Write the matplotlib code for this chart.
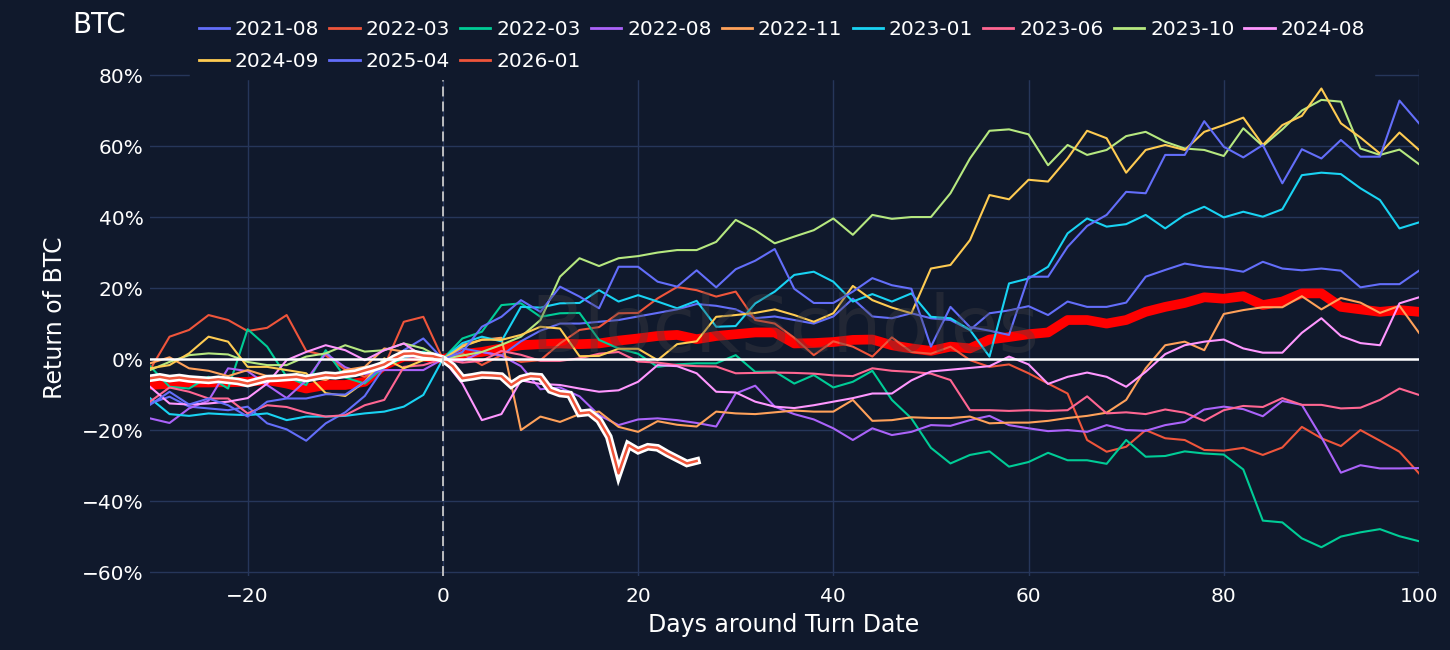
"""
BTC: returns around turn dates, one line per episode plus the average
"""
import numpy as np
import matplotlib
matplotlib.use('Agg')
import matplotlib.pyplot as plt
from matplotlib.ticker import PercentFormatter

# days around the turn date (read every 2nd day), values are returns in %
days = np.arange(-30, 101, 2)

ret_2021_08 = [-12.5, -10.6, -13.4, -13.9, -14.4, -13.4, -18.1, -19.8, -23.0, -18.1, -15.0, -10.4, -2.2, 2.5, 5.8, 0,
               3, 2, 1, 5, 8, 10, 10, 10.5, 11, 12, 13, 14, 15.5, 15, 14, 11.5, 12, 11, 10, 12,
               17, 12, 11.5, 12.9, 11.5, 11, 8.2, 12.9, 13.7, 14.9, 12.4, 16.2, 14.7, 14.7, 15.9,
               23.2, 25.1, 26.9, 26, 25.5, 24.6, 27.4, 25.5, 25, 25.5, 24.9, 20.2, 21.1, 21.1, 24.9]
ret_2022_03a = [-3, 6.3, 8.2, 12.4, 11, 7.9, 8.8, 12.4, 2.3, 1, -3, -5, -2, 10.5, 11.9, 0,
                1.6, -1.7, 1.1, -0.8, -0.3, 4.4, 8.2, 9, 12.9, 13, 17.1, 20.3, 19.4, 17.6, 19, 11, 10, 6, 1.1, 5,
                3.5, 0.7, 6.1, 2, 1.5, 3.5, -0.3, -2.2, -1.5, -4, -6.9, -9.7, -22.8, -26.1, -24.7,
                -20, -22.3, -22.8, -25.6, -25.8, -25, -27, -24.9, -19.1, -22.3, -24.5, -20, -23, -26.1, -32.2]
ret_2022_03b = [-2, -7.8, -8.3, -5, -8.3, 8.4, 3.5, -5, -7.3, 2.5, -5.2, -6.9, -2.2, 0.2, 2.1, 0,
                5.8, 7.7, 15.2, 15.7, 11.9, 12.9, 13, 5.4, 3, 1.5, -2.2, -1.5, -1.2, -1.2, 1.1, -3.6, -3.5, -6.9, -4.5, -8,
                -6.4, -3.3, -11.5, -16.7, -25, -29.4, -27, -26, -30.3, -29, -26.4, -28.5, -28.5, -29.5, -22.8,
                -27.5, -27.3, -26, -26.6, -26.9, -31.1, -45.5, -46, -50.5, -53, -50, -48.8, -47.9, -49.9, -51.3]
ret_2022_08 = [-16.7, -18, -13.9, -11.7, -2.6, -3.4, -7.3, -11, -6, 1.6, -2.3, -4.2, -3.1, -3.1, -3.1, 0,
               -0.5, 2, 1, -2, -8.5, -8, -10.5, -15.8, -18.6, -17, -16.7, -17.2, -18, -19, -9.7, -7.5, -13.4, -15.5, -17, -19.5,
               -22.8, -19.5, -21.4, -20.5, -18.6, -18.8, -17.2, -16, -18.6, -19.5, -20.3, -20, -20.5, -18.6, -20,
               -20.2, -18.6, -17.7, -14.2, -13.4, -14.1, -16.1, -11.8, -12.9, -22, -32, -29.9, -30.8, -30.8, -30.7]
ret_2022_11 = [-1.2, 0.5, -2.6, -3.3, -4.8, -3.1, -4.8, -5.9, -5, -5.9, -3.1, -2.2, 3, 2.1, 0.8, 0,
               4, 5.4, 6, -20, -16.2, -17.7, -15.5, -14.8, -19.1, -20.5, -17.5, -18.5, -19, -14.8, -15.3, -15.5, -15, -14.5, -14.8, -14.8,
               -11.5, -17.4, -17.2, -16.4, -16.6, -16.6, -16.2, -18.1, -17.9, -17.9, -17.4, -16.6, -16, -15.1, -11.5,
               -2.6, 3.9, 4.9, 2.5, 12.7, 13.8, 14.6, 14.6, 17.7, 14, 17.2, 15.9, 13, 15, 7.4]
ret_2023_01 = [-11, -15.5, -16, -15.3, -15.6, -15.8, -15.3, -17.2, -16.2, -16.2, -16, -15.3, -14.8, -13.4, -10.1, 0,
               4.5, 6.3, 5, 14.7, 14.5, 15.7, 15.8, 19.4, 16.2, 18, 16.2, 14.3, 16.4, 9.1, 9.3, 15.7, 19, 23.7, 24.6, 21.8,
               16.2, 18.3, 16.2, 18.5, 11.9, 11.5, 8.2, 0.7, 21.3, 22.7, 26, 35.4, 39.6, 37.3, 38,
               40.6, 36.8, 40.6, 42.9, 39.9, 41.5, 40.1, 42.2, 51.8, 52.5, 52.1, 48.1, 44.8, 36.8, 38.5]
ret_2023_06 = [-12, -8, -9.2, -11.1, -11.1, -15.3, -13, -13.5, -15.1, -16.2, -15.8, -13, -11.5, -2.2, -1.7, 0,
               -1, -0.5, 2.3, 1.2, -0.5, -0.5, 0.2, 1.5, 2, -0.7, -1, -1.7, -2, -2.1, -4, -3.9, -3.8, -3.9, -4.1, -4.6,
               -4.8, -2.6, -3.3, -3.6, -4.1, -5.9, -14.4, -14.4, -14.6, -14.4, -14.6, -14.4, -10.5, -15.3, -15,
               -15.5, -14.2, -15.1, -17.4, -14.4, -13.2, -13.5, -11, -12.9, -12.9, -13.9, -13.7, -11.5, -8.3, -10.1]
ret_2023_10 = [-3.1, -0.8, 1.1, 1.6, 1.3, -0.8, -1.7, -1.7, 0.7, 1.6, 3.9, 2.1, 2.5, 4.4, 3, 0,
               1, 2, 4, 6.3, 11, 23.2, 28.4, 26.2, 28.4, 29, 30, 30.7, 30.7, 33, 39.2, 36.3, 32.6, 34.5, 36.3, 39.6,
               35, 40.6, 39.5, 40, 40, 46.7, 56.5, 64.3, 64.7, 63.3, 54.6, 60.3, 57.5, 58.9, 62.8,
               64, 61.2, 59.3, 58.9, 57.2, 65, 60, 64.7, 70, 73, 72.5, 59.3, 57.5, 59, 54.9]
ret_2024_08 = [-7.8, -12.5, -12.8, -12.5, -12, -11, -6.9, -0.3, 2, 3.9, 2.5, -0.3, 2.5, 4.4, 0.7, 0,
               -6.9, -17.2, -15.5, -6, -7, -7.3, -8.3, -9.2, -8.8, -6.4, -1.7, -2, -4, -9.2, -9.4, -12, -13.4, -13.8, -13, -12,
               -11, -9.7, -9.7, -6, -3.5, -3, -2.5, -2, 0.7, -1.5, -7, -5, -3.8, -5, -7.8,
               -3.6, 1.4, 3.9, 4.9, 5.5, 3, 1.8, 1.8, 7.4, 11.5, 6.5, 4.5, 3.9, 15.7, 17.4]
ret_2024_09 = [-2.6, -1.7, 1.6, 6.3, 4.9, -2.2, -2.2, -3.1, -4, -9.6, -10.4, -6.4, 0.2, -2.6, -0.3, 0,
               3.5, 5.5, 5.4, 6.8, 9.1, 8.6, 0.8, 0.9, 2.9, 2.9, -0.3, 4.2, 5, 11.9, 12.4, 13, 14, 12.4, 10.5, 12.9,
               20.6, 16.6, 14.5, 12.9, 25.5, 26.5, 33.5, 46.2, 45, 50.5, 50, 56.5, 64.3, 62.2, 52.5,
               58.9, 60.3, 58.9, 64, 65.9, 68, 60.3, 65.9, 68.5, 76.2, 66.4, 62.4, 57.9, 63.8, 58.9]
ret_2025_04 = [-12.9, -9.2, -12.8, -11.1, -13, -16.2, -12, -11.1, -11.1, -9.9, -10, -6.4, -1.7, 0.7, 0.8, 0,
               2, 9.1, 11.9, 16.6, 13.3, 20.4, 17.6, 14.3, 26, 26, 21.8, 20.4, 25, 20.2, 25.3, 27.7, 31, 19.8, 15.8, 15.8,
               19, 22.8, 20.8, 19.8, 3.5, 14.7, 9, 8, 6.8, 23.2, 23.2, 31.6, 37.5, 40.6, 47.1,
               46.7, 57.5, 57.5, 67, 59.8, 56.8, 60.3, 49.5, 59.1, 56.5, 61.7, 57, 57, 72.8, 66.4]
avg_ret = [-7.3, -7, -6.6, -6.6, -6.5, -6.4, -5.9, -6.9, -8.3, -7.3, -7.3, -6.4, -1.7, 0.7, 0.7, 0,
           1.4, 2, 3, 3.9, 4.2, 4.4, 4.2, 4.4, 5.2, 5.8, 6.5, 6.8, 5.6, 6.5, 7, 7.5, 7.5, 4.4, 4.5, 4.8,
           5.4, 5.5, 3.9, 3, 2.3, 3.5, 3, 5.5, 6.2, 7, 7.5, 11, 11, 10, 11,
           13.3, 14.7, 15.8, 17.4, 17, 17.7, 15.2, 16.2, 18.5, 18.5, 14.7, 14, 13.3, 13.8, 13.3]

# current episode, read day by day
days_2026 = np.arange(-30, 27)
ret_2026_01 = [-5.4, -5, -5.5, -5.2, -5.6, -5.8, -6, -5.7, -6, -6.3, -6.9, -6.2, -5.5, -5.4, -5.2, -5,
               -5.5, -5, -4.5, -4.7, -4.3, -4, -3.2, -2.4, -1.5, 0.2, 1.5, 1.6, 1, 0.8, 0,
               -2, -5.4, -5, -4.5, -4.6, -4.8, -7.3, -5.5, -4.8, -5, -8.7, -9.7, -10, -15.3, -15, -17.2,
               -21.9, -32.2, -24.2, -25.8, -24.7, -25, -26.6, -28, -29.4, -28.7]

labels = ['2021-08', '2022-03', '2022-03', '2022-08', '2022-11', '2023-01',
          '2023-06', '2023-10', '2024-08', '2024-09', '2025-04']
series = [ret_2021_08, ret_2022_03a, ret_2022_03b, ret_2022_08, ret_2022_11, ret_2023_01,
          ret_2023_06, ret_2023_10, ret_2024_08, ret_2024_09, ret_2025_04]
colors = ['#636EFA', '#EF553B', '#00CC96', '#AB63FA', '#FFA15A', '#19D3F3',
          '#FF6692', '#B6E880', '#FF97FF', '#FECB52', '#636EFA']

BG = '#10192c'
GRID = '#26365a'
W, H = 1450, 650

fig = plt.figure(figsize=(W / 100, H / 100), dpi=100, facecolor=BG)
ax = fig.add_axes([150 / W, 74 / H, 1269 / W, 507 / H], facecolor=BG)

# average of past episodes, thick red band under the lines
ax.plot(days, avg_ret, color='#ff0000', lw=7, solid_joinstyle='round', zorder=1.5)

handles = []
for vals, lab, col in zip(series, labels, colors):
    line, = ax.plot(days, vals, color=col, lw=1.5, label=lab, zorder=2)
    handles.append(line)

# current episode: white halo + red line
ax.plot(days_2026, ret_2026_01, color='white', lw=5.5, solid_joinstyle='miter', zorder=3)
cur, = ax.plot(days_2026, ret_2026_01, color='#EF553B', lw=1.8, zorder=3.1)
handles.append(cur)
labels_all = labels + ['2026-01']

ax.axhline(0, color='white', lw=1.8, zorder=4)
ax.axvline(0, color='#c8c8c8', lw=1.3, ls=(0, (5.5, 2.8)), zorder=4)

ax.set_xlim(-30, 100)
ax.set_ylim(-61.1, 81.7)
ax.set_xticks([-20, 0, 20, 40, 60, 80, 100])
ax.set_yticks(range(-60, 81, 20))
ax.yaxis.set_major_formatter(PercentFormatter(xmax=100, decimals=0))
ax.grid(True, color=GRID, lw=1)
ax.set_axisbelow(True)
ax.tick_params(length=0, colors='white', labelsize=14.5)
ax.tick_params(axis='x', pad=8)
ax.tick_params(axis='y', pad=4.5)
for s in ax.spines.values():
    s.set_visible(False)

fig.text(784 / W, 1 - 625 / H, 'Days around Turn Date', fontsize=17, color='white',
         ha='center', va='center')
fig.text(55 / W, 1 - 318 / H, 'Return of BTC', fontsize=17, color='white',
         ha='center', va='center', rotation=90)
fig.text(72 / W, 1 - 33 / H, 'BTC', fontsize=20, color='white', va='baseline')

# watermark
fig.text(785 / W, 1 - 352 / H, 'BlockScholes', fontsize=56, color='#444446', alpha=0.35,
         ha='center', va='baseline')

# legend filled column-wise, so reorder to get 9 per row
order = [0, 9, 1, 10, 2, 11, 3, 4, 5, 6, 7, 8]
leg = fig.legend([handles[i] for i in order], [labels_all[i] for i in order],
                 loc='upper left', bbox_to_anchor=(190 / W, 1 - 11 / H), ncol=9,
                 frameon=True, facecolor=BG, edgecolor=BG, framealpha=1, fancybox=False,
                 borderpad=0.43, borderaxespad=0, handlelength=1.5, handletextpad=0.3,
                 columnspacing=0.5, labelspacing=0.65, fontsize=14.5, labelcolor='white')
for h in leg.legend_handles:
    h.set_linewidth(2)

fig.savefig('out.png', dpi=100, facecolor=BG)
